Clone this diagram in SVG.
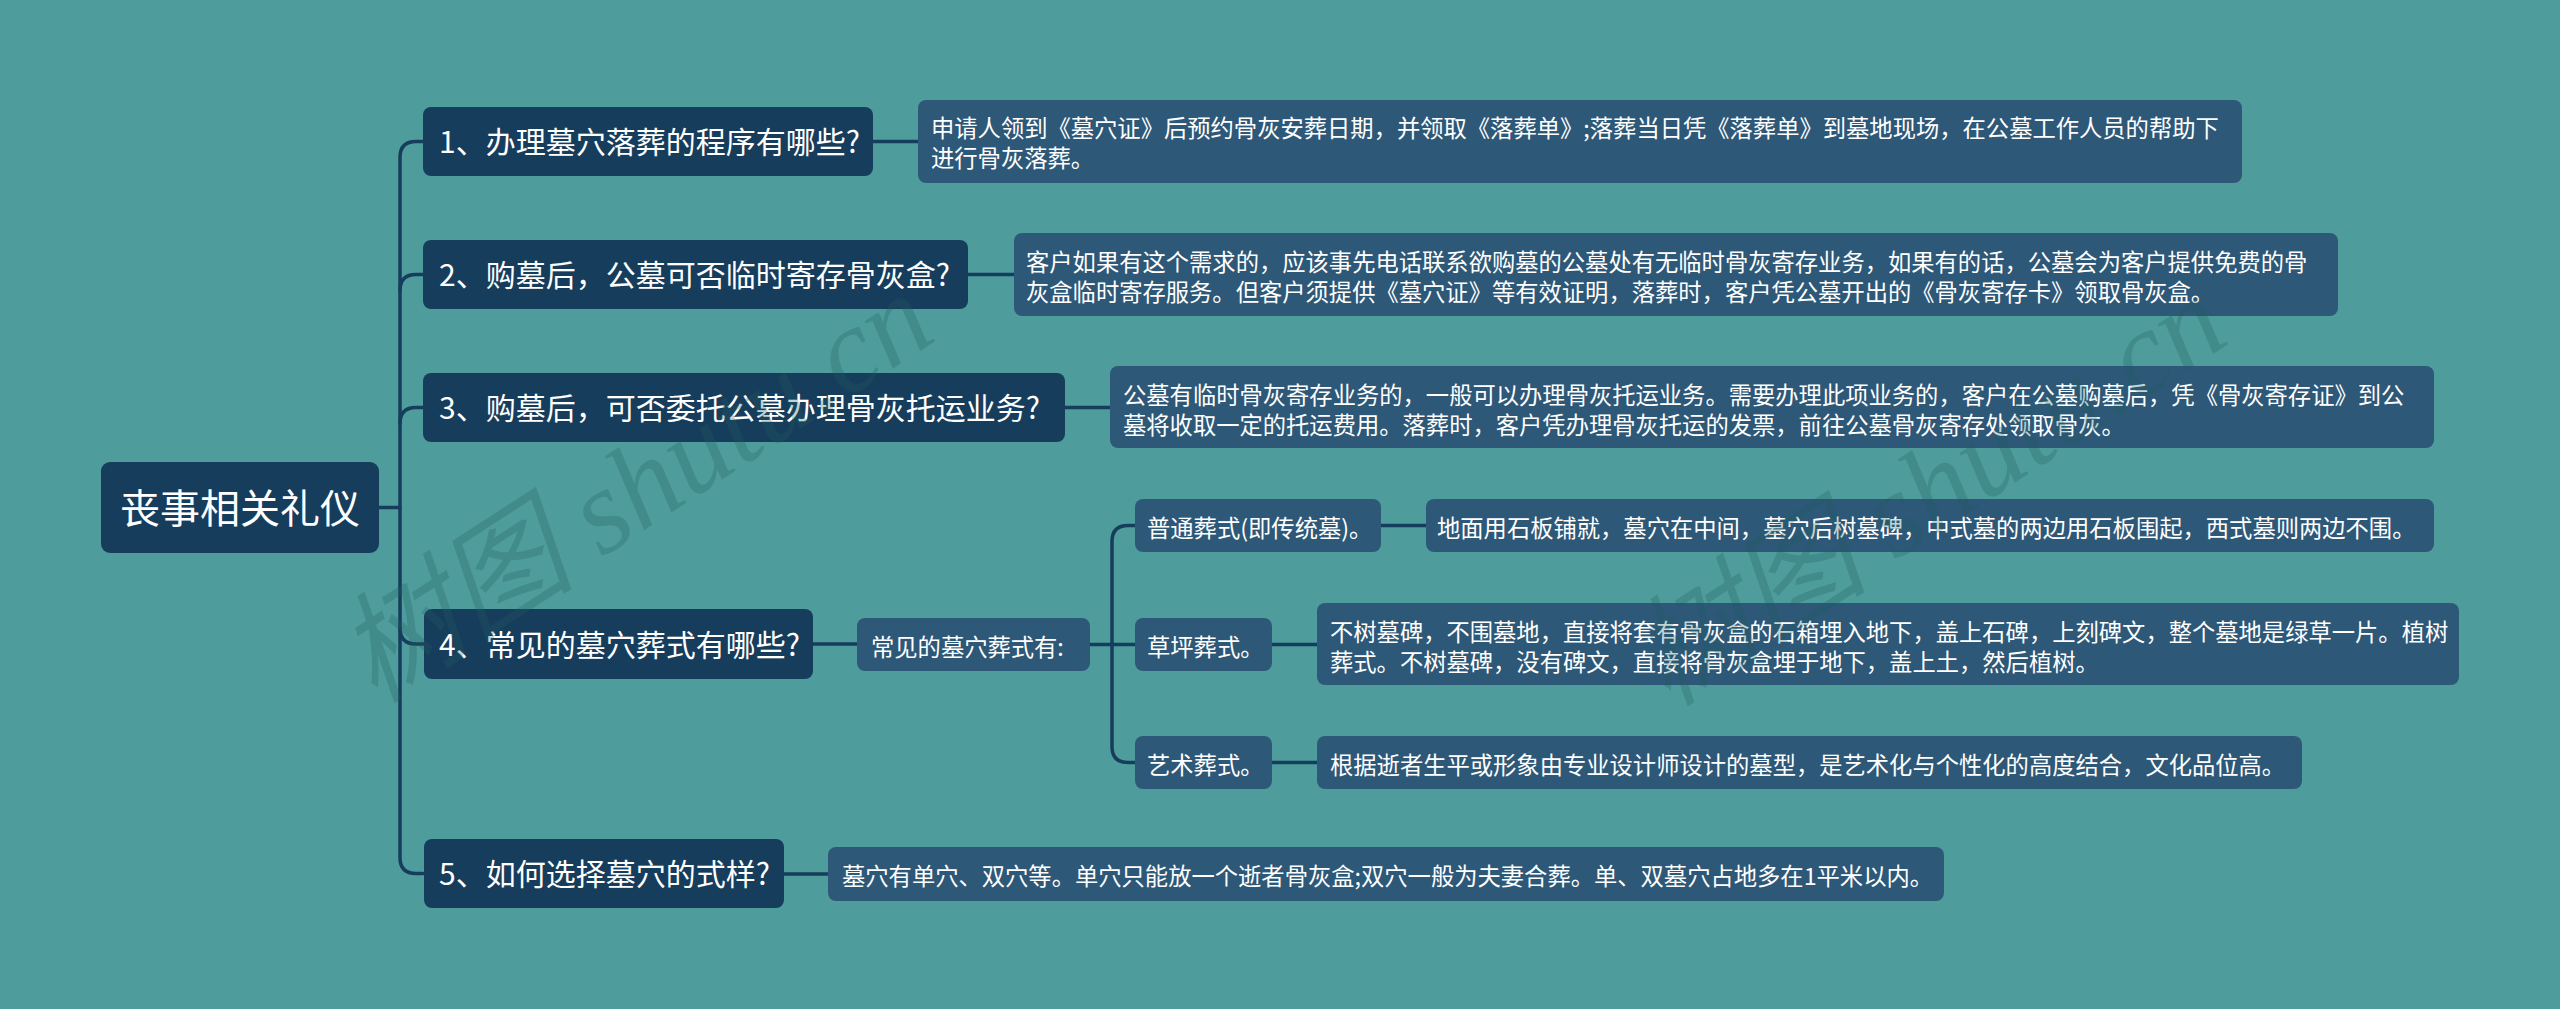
<svg xmlns="http://www.w3.org/2000/svg" width="2560" height="1009" viewBox="0 0 2560 1009">
<style>
.bg{fill:#4e9d9c}
.root{fill:#173d5c}
.l1{fill:#173d5c}
.det{fill:#2e5878}
.t{fill:#ffffff;font-family:"Noto Sans CJK SC","Noto Sans",sans-serif}
.tr{font-size:40px}
.t1{font-size:30px}
.td{font-size:23.3px}
.con{fill:none;stroke:#173d5c;stroke-width:3.5;stroke-linecap:round}
.wm{fill:#1f5f60;opacity:0.27;font-family:"Liberation Serif","Noto Sans CJK SC",serif;font-style:italic;font-size:120px}
</style>
<rect class="bg" x="0" y="0" width="2560" height="1009"/>

<g id="connectors">
  <path class="con" d="M379 507.5 H400"/>
  <path class="con" d="M423 141.5 H416 Q400 141.5 400 157.5 V857.5 Q400 873.5 416 873.5 H423"/>
  <path class="con" d="M400 290.5 Q400 274.5 416 274.5 H423"/>
  <path class="con" d="M400 423.5 Q400 407.5 416 407.5 H423"/>
  <path class="con" d="M400 628 Q400 644 416 644 H424"/>
  <path class="con" d="M873 141.5 H918"/>
  <path class="con" d="M968 274.5 H1014"/>
  <path class="con" d="M1065 407.5 H1110"/>
  <path class="con" d="M813 644 H857"/>
  <path class="con" d="M784 874 H828"/>
  <path class="con" d="M1090 644.5 H1135"/>
  <path class="con" d="M1135 525.5 H1128 Q1112 525.5 1112 541.5 V746.5 Q1112 762.5 1128 762.5 H1135"/>
  <path class="con" d="M1381 525.5 H1426"/>
  <path class="con" d="M1272 644.5 H1317"/>
  <path class="con" d="M1272 762.5 H1317"/>
</g>

<g id="root">
  <rect class="root" x="101" y="462" width="278" height="91" rx="9"/>
  <text class="t tr" x="240" y="522.5" text-anchor="middle">丧事相关礼仪</text>
</g>

<g id="q1">
  <rect class="l1" x="423" y="107" width="450" height="69" rx="8"/>
  <text class="t t1" x="439" y="152.5">1、办理墓穴落葬的程序有哪些?</text>
</g>
<g id="a1">
  <rect class="det" x="918" y="100" width="1324" height="83" rx="8"/>
  <text class="t td" x="931" y="137">申请人领到《墓穴证》后预约骨灰安葬日期，并领取《落葬单》;落葬当日凭《落葬单》到墓地现场，在公墓工作人员的帮助下</text>
  <text class="t td" x="931" y="167">进行骨灰落葬。</text>
</g>

<g id="q2">
  <rect class="l1" x="423" y="240" width="545" height="69" rx="8"/>
  <text class="t t1" x="439" y="285.5">2、购墓后，公墓可否临时寄存骨灰盒?</text>
</g>
<g id="a2">
  <rect class="det" x="1014" y="233" width="1324" height="83" rx="8"/>
  <text class="t td" x="1026" y="270.5">客户如果有这个需求的，应该事先电话联系欲购墓的公墓处有无临时骨灰寄存业务，如果有的话，公墓会为客户提供免费的骨</text>
  <text class="t td" x="1026" y="300.5">灰盒临时寄存服务。但客户须提供《墓穴证》等有效证明，落葬时，客户凭公墓开出的《骨灰寄存卡》领取骨灰盒。</text>
</g>

<g id="q3">
  <rect class="l1" x="423" y="373" width="642" height="69" rx="8"/>
  <text class="t t1" x="439" y="418.5">3、购墓后，可否委托公墓办理骨灰托运业务?</text>
</g>
<g id="a3">
  <rect class="det" x="1110" y="366" width="1324" height="82" rx="8"/>
  <text class="t td" x="1123" y="404">公墓有临时骨灰寄存业务的，一般可以办理骨灰托运业务。需要办理此项业务的，客户在公墓购墓后，凭《骨灰寄存证》到公</text>
  <text class="t td" x="1123" y="434">墓将收取一定的托运费用。落葬时，客户凭办理骨灰托运的发票，前往公墓骨灰寄存处领取骨灰。</text>
</g>

<g id="q4">
  <rect class="l1" x="424" y="609" width="389" height="70" rx="8"/>
  <text class="t t1" x="439" y="655.5">4、常见的墓穴葬式有哪些?</text>
</g>
<g id="a4">
  <rect class="det" x="857" y="618" width="233" height="53" rx="8"/>
  <text class="t td" x="871" y="655.5">常见的墓穴葬式有:</text>
</g>

<g id="s1">
  <rect class="det" x="1135" y="499" width="246" height="53" rx="8"/>
  <text class="t td" x="1147" y="536.5">普通葬式(即传统墓)。</text>
</g>
<g id="s1d">
  <rect class="det" x="1426" y="499" width="1008" height="53" rx="8"/>
  <text class="t td" x="1437" y="536.5">地面用石板铺就，墓穴在中间，墓穴后树墓碑，中式墓的两边用石板围起，西式墓则两边不围。</text>
</g>

<g id="s2">
  <rect class="det" x="1135" y="618" width="137" height="53" rx="8"/>
  <text class="t td" x="1147" y="655.5">草坪葬式。</text>
</g>
<g id="s2d">
  <rect class="det" x="1317" y="603" width="1142" height="82" rx="8"/>
  <text class="t td" x="1330" y="641">不树墓碑，不围墓地，直接将套有骨灰盒的石箱埋入地下，盖上石碑，上刻碑文，整个墓地是绿草一片。植树</text>
  <text class="t td" x="1330" y="671">葬式。不树墓碑，没有碑文，直接将骨灰盒埋于地下，盖上土，然后植树。</text>
</g>

<g id="s3">
  <rect class="det" x="1135" y="736" width="137" height="53" rx="8"/>
  <text class="t td" x="1147" y="773.5">艺术葬式。</text>
</g>
<g id="s3d">
  <rect class="det" x="1317" y="736" width="985" height="53" rx="8"/>
  <text class="t td" x="1330" y="773.5">根据逝者生平或形象由专业设计师设计的墓型，是艺术化与个性化的高度结合，文化品位高。</text>
</g>

<g id="q5">
  <rect class="l1" x="424" y="839" width="360" height="69" rx="8"/>
  <text class="t t1" x="439" y="885">5、如何选择墓穴的式样?</text>
</g>
<g id="a5">
  <rect class="det" x="828" y="847" width="1116" height="54" rx="8"/>
  <text class="t td" x="842" y="885">墓穴有单穴、双穴等。单穴只能放一个逝者骨灰盒;双穴一般为夫妻合葬。单、双墓穴占地多在1平米以内。</text>
</g>

<g id="watermarks">
  <text class="wm" transform="translate(375 705) rotate(-33)">树图 shutu.cn</text>
  <text class="wm" transform="translate(1668 708) rotate(-33)">树图 shutu.cn</text>
</g>
</svg>
